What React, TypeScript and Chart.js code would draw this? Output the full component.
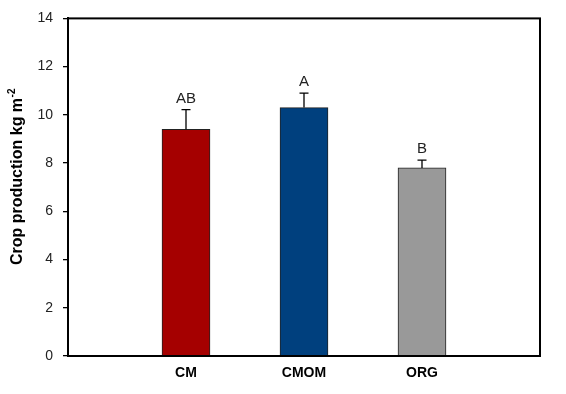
import React, { useEffect, useRef } from "react";
import { Chart, registerables } from "chart.js";

Chart.register(...registerables);

const categories = ["CM", "CMOM", "ORG"];
const values = [9.4, 10.3, 7.8];
const errors = [0.82, 0.6, 0.32];
const letters = ["AB", "A", "B"];
const barColors = ["#A50000", "#00407E", "#999999"];
const yTitle = "Crop production kg m";
const yTitleSup = "-2";

const FONT = "Arial, 'Liberation Sans', sans-serif";

export default function App() {
  const ref = useRef<HTMLCanvasElement>(null);
  useEffect(() => {
    if (!ref.current) return;
    const labels = ["", ...categories, ""];
    const data = [null, ...values, null];
    const colors = ["#000", ...barColors, "#000"];
    const errs = [0, ...errors, 0];
    const lets = ["", ...letters, ""];

    const overlay = {
      id: "overlay",
      afterDatasetsDraw(chart: any) {
        const ctx = chart.ctx;
        const meta = chart.getDatasetMeta(0);
        const y = chart.scales.y;
        ctx.save();
        meta.data.forEach((bar: any, i: number) => {
          const v = data[i];
          if (v == null) return;
          const top = y.getPixelForValue(v + errs[i]);
          const base = y.getPixelForValue(v);
          ctx.strokeStyle = "#000";
          ctx.lineWidth = 1.3;
          ctx.beginPath();
          ctx.moveTo(bar.x, base);
          ctx.lineTo(bar.x, top);
          ctx.moveTo(bar.x - 4.5, top);
          ctx.lineTo(bar.x + 4.5, top);
          ctx.stroke();
          ctx.fillStyle = "#222";
          ctx.font = `15px ${FONT}`;
          ctx.textAlign = "center";
          ctx.textBaseline = "alphabetic";
          ctx.fillText(lets[i], bar.x, top - 7);
        });
        const a = chart.chartArea;
        ctx.strokeStyle = "#000";
        ctx.lineWidth = 2;
        ctx.strokeRect(a.left, a.top, a.right - a.left, a.bottom - a.top);
        // y title with superscript
        ctx.translate(22, 265);
        ctx.rotate(-Math.PI / 2);
        ctx.fillStyle = "#000";
        ctx.font = `bold 16px ${FONT}`;
        ctx.textAlign = "left";
        ctx.textBaseline = "alphabetic";
        ctx.fillText(yTitle, 0, 0);
        const w = ctx.measureText(yTitle).width;
        ctx.font = `bold 10px ${FONT}`;
        ctx.fillText(yTitleSup, w + 0.5, -7);
        ctx.restore();
      },
    };

    const chart = new Chart(ref.current, {
      type: "bar",
      data: {
        labels,
        datasets: [
          {
            data,
            backgroundColor: colors,
            borderColor: "#222",
            borderWidth: 1,
            barThickness: 48,
          },
        ],
      },
      options: {
        responsive: false,
        animation: false,
        layout: { padding: { left: 0, top: 16, right: 26, bottom: 0 } },
        plugins: {
          legend: { display: false },
          tooltip: { enabled: false },
        },
        scales: {
          x: {
            offset: false,
            grid: { display: false, drawTicks: false },
            border: { display: true, color: "#000", width: 2 },
            ticks: {
              color: "#000",
              font: { family: FONT, size: 14, weight: "bold" },
              padding: 9,
              maxRotation: 0,
              autoSkip: false,
            },
            afterFit(scale: any) {
              scale.height = 38;
            },
          },
          y: {
            min: 0,
            max: 14,
            ticks: {
              stepSize: 2,
              color: "#222",
              font: { family: FONT, size: 14 },
              padding: 10,
            },
            grid: {
              display: true,
              drawOnChartArea: false,
              drawTicks: true,
              tickLength: 5,
              color: "#000",
              lineWidth: 1.3,
            },
            border: { display: true, color: "#000", width: 2 },
            afterFit(scale: any) {
              scale.width = 68;
            },
          },
        },
      },
      plugins: [overlay],
    });
    return () => chart.destroy();
  }, []);

  return (
    <div style={{ position: "fixed", left: 0, top: 0, width: 566, height: 394, background: "#fff" }}>
      <canvas ref={ref} width={566} height={394} />
    </div>
  );
}
